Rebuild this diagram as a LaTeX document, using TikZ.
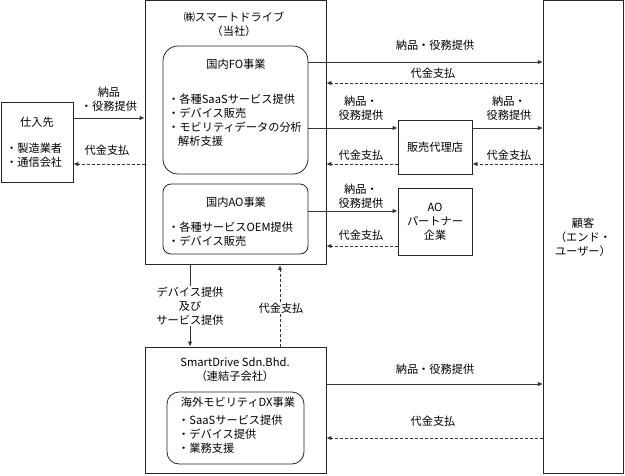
\documentclass[tikz,border=0pt]{standalone}
\usepackage{fontspec}
\setmainfont{Noto Sans CJK JP}
\usetikzlibrary{arrows.meta}
\tikzset{
  box/.style={draw=black!85, line width=0.8pt, inner sep=0pt},
  rbox/.style={box, rounded corners=#1},
  txt/.style={font=\fontsize{11.2}{14}\selectfont, inner sep=0pt, align=center},
  ltxt/.style={font=\fontsize{11.2}{14}\selectfont, inner sep=0pt, align=left, anchor=west},
  flow/.style={draw=black!80, line width=0.8pt, -{Latex[length=5pt,width=4.5pt]}},
  pay/.style={flow, dash pattern=on 3pt off 2pt},
}
\begin{document}
\begin{tikzpicture}[x=1pt,y=-1pt]
\useasboundingbox (0,0) rectangle (625,475);
% boxes
\node[box, minimum width=181pt, minimum height=264pt] (main) at (235.5,132.7) {};
\node[box, minimum width=80.5pt, minimum height=473pt] (cust) at (583.5,237.3) {};
\node[box, minimum width=72pt, minimum height=80pt] (sup) at (37,142) {};
\node[rbox=15pt, minimum width=145pt, minimum height=128pt] (fo) at (235.5,110) {};
\node[rbox=8pt, minimum width=145pt, minimum height=70pt] (ao) at (235.5,219) {};
\node[box, minimum width=74pt, minimum height=54pt] (agency) at (435,147) {};
\node[box, minimum width=74pt, minimum height=67pt] (aop) at (435,221.5) {};
\node[box, minimum width=181pt, minimum height=126.5pt] (sdn) at (235.5,410.25) {};
\node[rbox=12pt, minimum width=137pt, minimum height=72pt] (ovs) at (235.5,428) {};

% texts
\node[txt] (mainT) at (234,24.5) {㈱スマートドライブ\\（当社）};
\node[txt] (foT) at (236,64) {国内FO事業};
\node[ltxt] (foL) at (168,120) {・各種SaaSサービス提供\\・デバイス販売\\・モビリティデータの分析\\\hspace*{10pt}解析支援};
\node[txt] (aoT) at (236,202) {国内AO事業};
\node[ltxt] (aoL) at (168,234) {・各種サービスOEM提供\\・デバイス販売};
\node[txt] (supT) at (37,122) {仕入先};
\node[ltxt] (supL) at (6,155) {・製造業者\\・通信会社};
\node[txt] (custT) at (583,237.5) {顧客\\（エンド・\\ユーザー）};
\node[txt] (agT) at (435,147) {販売代理店};
\node[txt] (aopT) at (435,221.5) {AO\\パートナー\\企業};
\node[txt] (sdnT) at (235,370) {SmartDrive Sdn.Bhd.\\（連結子会社）};
\node[txt] (ovsT) at (238,402) {海外モビリティDX事業};
\node[ltxt] (ovsL) at (178,434) {・SaaSサービス提供\\・デバイス提供\\・業務支援};

% connector rows
\coordinate (r1) at (0,62);
\coordinate (r2) at (0,83);
\coordinate (r3) at (0,128);
\coordinate (r4) at (0,164);
\coordinate (r5) at (0,211);
\coordinate (r6) at (0,246);
\coordinate (r7) at (0,118);
\coordinate (r8) at (0,384);
\coordinate (r9) at (0,438);
\coordinate (c1) at (190,0);
\coordinate (c2) at (280,0);

% supplier
\draw[flow] (sup.east |- r7) -- (main.west |- r7);
\draw[pay] (main.west |- r4) -- (sup.east |- r4);
\node[txt] (l1) at (109,99.5) {納品\\・役務提供};
\node[txt] (l2) at (107,150) {代金支払};

% FO to customer
\draw[flow] (fo.east |- r1) -- (cust.west |- r1);
\draw[pay] (cust.west |- r2) -- (main.east |- r2);
\node[txt] (l3) at (435,45) {納品・役務提供};
\node[txt] (l4) at (433,73) {代金支払};

% FO to agency to customer
\draw[flow] (fo.east |- r3) -- (agency.west |- r3);
\draw[flow] (agency.east |- r3) -- (cust.west |- r3);
\draw[pay] (agency.west |- r4) -- (main.east |- r4);
\draw[pay] (cust.west |- r4) -- (agency.east |- r4);
\node[txt] (l5) at (361,108.5) {納品・\\役務提供};
\node[txt] (l6) at (509,108.5) {納品・\\役務提供};
\node[txt] (l7) at (361,155) {代金支払};
\node[txt] (l8) at (509,155) {代金支払};

% AO to partner
\draw[flow] (ao.east |- r5) -- (aop.west |- r5);
\draw[pay] (aop.west |- r6) -- (main.east |- r6);
\node[txt] (l9) at (361,196.5) {納品・\\役務提供};
\node[txt] (l10) at (361,235) {代金支払};

% main <-> sdn
\draw[flow] (main.south -| c1) -- (sdn.north -| c1);
\draw[pay] (sdn.north -| c2) -- (main.south -| c2);
\node[txt, fill=white, inner sep=1pt] (l11) at (190,306) {デバイス提供\\及び\\サービス提供};
\node[txt, fill=white, inner sep=1pt] (l12) at (281,308) {代金支払};

% sdn to customer
\draw[flow] (sdn.east |- r8) -- (cust.west |- r8);
\draw[pay] (cust.west |- r9) -- (sdn.east |- r9);
\node[txt] (l13) at (435,369) {納品・役務提供};
\node[txt] (l14) at (433,421) {代金支払};
\end{tikzpicture}
\end{document}
